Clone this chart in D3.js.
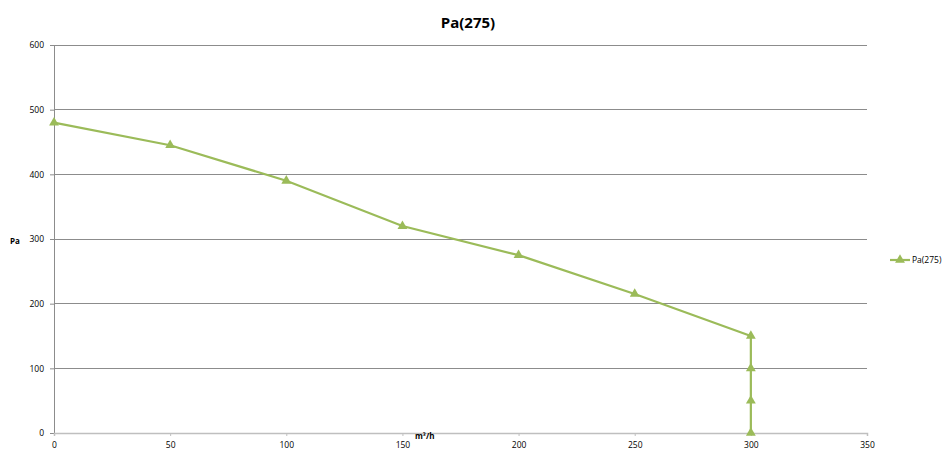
<!DOCTYPE html>
<html><head><meta charset="utf-8">
<script src="https://cdn.jsdelivr.net/npm/d3@7"></script>
<style>body{margin:0;background:#fff;} text{font-family:"Open Sans","Liberation Sans",sans-serif;}</style>
</head><body>
<svg id="c" width="944" height="452"></svg>
<script>
const xValues = [0, 50, 100, 150, 200, 250, 300, 300, 300, 300];
const yValues = [480, 445, 390, 320, 275, 215, 150, 100, 50, 0];
const xTicks = [0, 50, 100, 150, 200, 250, 300, 350];
const yTicks = [0, 100, 200, 300, 400, 500, 600];
const seriesName = "Pa(275)";
const title = "Pa(275)";

const svg = d3.select("#c");
const x = d3.scaleLinear().domain([0, 350]).range([54, 867]);
const y = d3.scaleLinear().domain([0, 600]).range([433, 45]);
const color = "#9bbb59";

// gridlines
svg.append("g").selectAll("line").data(yTicks.filter(d => d > 0)).join("line")
  .attr("x1", x(0)).attr("x2", x(350)).attr("y1", d => y(d)).attr("y2", d => y(d))
  .attr("stroke", "#8c8c8c").attr("stroke-width", 1).attr("shape-rendering", "crispEdges");

// y axis
const ya = svg.append("g").attr("transform", `translate(${x(0)},0)`)
  .call(d3.axisLeft(y).tickValues(yTicks).tickSize(4).tickPadding(6));
ya.select(".domain").attr("stroke", "#8c8c8c");
ya.selectAll(".tick line").attr("stroke", "#8c8c8c");
ya.selectAll("text").attr("font-size", 8.5).attr("fill", "#000");

// x axis
const xa = svg.append("g").attr("transform", `translate(0,${y(0)})`)
  .call(d3.axisBottom(x).tickValues(xTicks).tickSize(3).tickPadding(6));
xa.select(".domain").attr("stroke", "#bfbfbf").attr("stroke-width", 1.5);
xa.selectAll(".tick line").attr("stroke", "#bfbfbf");
xa.selectAll("text").attr("font-size", 8.5).attr("fill", "#000");

// line
const pts = xValues.map((v, i) => [v, yValues[i]]);
svg.append("path").datum(pts)
  .attr("d", d3.line().x(d => x(d[0])).y(d => y(d[1])))
  .attr("fill", "none").attr("stroke", color).attr("stroke-width", 2.2);

const tri = d3.symbol().type(d3.symbolTriangle).size(42);
svg.append("g").selectAll("path").data(pts).join("path")
  .attr("d", tri).attr("transform", d => `translate(${x(d[0])},${y(d[1])})`)
  .attr("fill", color);

// title
svg.append("text").attr("x", 468).attr("y", 28).attr("text-anchor", "middle")
  .attr("font-size", 15).attr("font-weight", "bold").text(title);

// axis titles
svg.append("text").attr("x", 10).attr("y", 244).attr("font-size", 8).attr("font-weight", "bold").text("Pa");
svg.append("text").attr("x", 415).attr("y", 439).attr("font-size", 8).attr("font-weight", "bold").text("m³/h");

// legend
svg.append("line").attr("x1", 890).attr("x2", 910).attr("y1", 260).attr("y2", 260)
  .attr("stroke", color).attr("stroke-width", 2.2);
svg.append("path").attr("d", tri).attr("transform", "translate(900,260)").attr("fill", color);
svg.append("text").attr("x", 912).attr("y", 263).attr("font-size", 8.5).text(seriesName);
</script>
</body></html>
